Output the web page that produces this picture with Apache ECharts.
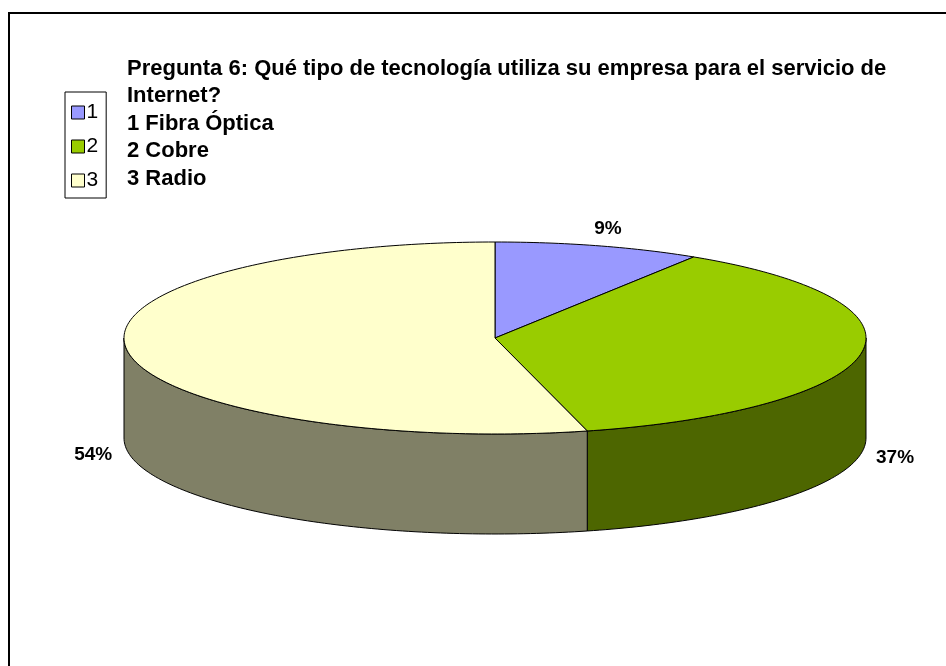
<!DOCTYPE html>
<html>
<head>
<meta charset="utf-8">
<script src="https://cdn.jsdelivr.net/npm/echarts@6/dist/echarts.min.js"></script>
<style>
  html, body { margin: 0; padding: 0; background: #fff; }
  #chart { width: 946px; height: 666px; }
</style>
</head>
<body>
<div id="chart"></div>
<script>
// datos
const categories = ['1', '2', '3'];
const values = [9, 37, 54];
const titleLines = [
  'Pregunta 6: Qué tipo de tecnología utiliza su empresa para el servicio de',
  'Internet?',
  '1 Fibra Óptica',
  '2 Cobre',
  '3 Radio'
];

const topColors = ['#9999FF', '#99CC00', '#FFFFCC'];
const sideColors = ['#4D4D80', '#4D6600', '#808066'];
const FONT = '"Liberation Sans", Arial, sans-serif';

// geometría de la torta 3D
const cx = 495, cy = 338, rx = 371, ry = 96, depth = 100;

const total = values.reduce((a, b) => a + b, 0);
const starts = [];
let acc = -Math.PI / 2;
values.forEach(v => {
  starts.push(acc);
  acc += v / total * Math.PI * 2;
});

const arc = (a1, a2, dy) => {
  const pts = [];
  const n = Math.max(2, Math.ceil((a2 - a1) / (Math.PI / 180)));
  for (let k = 0; k <= n; k++) {
    const t = a1 + (a2 - a1) * k / n;
    pts.push([cx + rx * Math.cos(t), cy + dy + ry * Math.sin(t)]);
  }
  return pts;
};

const renderSlice = (params, api) => {
  const i = params.seriesIndex;
  const v = api.value(0);
  const a1 = starts[i];
  const a2 = a1 + v / total * Math.PI * 2;
  const children = [];

  // cara lateral (solo la mitad frontal)
  const f1 = Math.max(a1, 0), f2 = Math.min(a2, Math.PI);
  if (f2 > f1) {
    const pts = arc(f1, f2, 0).concat(arc(f1, f2, depth).reverse());
    children.push({
      type: 'polygon',
      shape: { points: pts },
      style: { fill: sideColors[i], stroke: '#000', lineWidth: 1 }
    });
  }

  // cara superior
  children.push({
    type: 'polygon',
    shape: { points: [[cx, cy]].concat(arc(a1, a2, 0)) },
    style: { fill: topColors[i], stroke: '#000', lineWidth: 1 }
  });

  // etiqueta
  const m = (a1 + a2) / 2;
  const dy = Math.sin(m) >= 0 ? depth : 0;
  children.push({
    type: 'text',
    style: {
      text: Math.round(v / total * 100) + '%',
      x: cx + 405 * Math.cos(m),
      y: cy + dy + 116 * Math.sin(m) + 2,
      align: 'center',
      verticalAlign: 'middle',
      font: 'bold 19px ' + FONT,
      fill: '#000'
    }
  });

  return { type: 'group', children };
};

const chart = echarts.init(document.getElementById('chart'));

chart.setOption({
  animation: false,
  backgroundColor: '#fff',
  title: {
    text: titleLines.join('\n'),
    left: 122,
    top: 50,
    textStyle: {
      fontFamily: FONT,
      fontWeight: 'bold',
      fontSize: 22,
      lineHeight: 27.5,
      color: '#000'
    }
  },
  legend: {
    orient: 'vertical',
    left: 65,
    top: 92,
    data: categories,
    icon: 'rect',
    itemWidth: 13,
    itemHeight: 13,
    itemGap: 13,
    padding: [10, 8, 7, 6],
    borderColor: '#000',
    borderWidth: 1,
    backgroundColor: '#fff',
    selectedMode: false,
    itemStyle: { borderColor: '#000', borderWidth: 1 },
    textStyle: { fontFamily: FONT, fontSize: 21, color: '#000', padding: [0, 0, 0, -3] }
  },
  graphic: [{
    type: 'rect',
    shape: { x: 9, y: 13, width: 1000, height: 700 },
    style: { fill: 'none', stroke: '#000', lineWidth: 2 },
    z: 100
  }],
  series: categories.map((name, i) => ({
    type: 'custom',
    name,
    coordinateSystem: 'none',
    itemStyle: { color: topColors[i], borderColor: '#000', borderWidth: 1 },
    renderItem: renderSlice,
    data: [[values[i]]]
  }))
});
</script>
</body>
</html>
